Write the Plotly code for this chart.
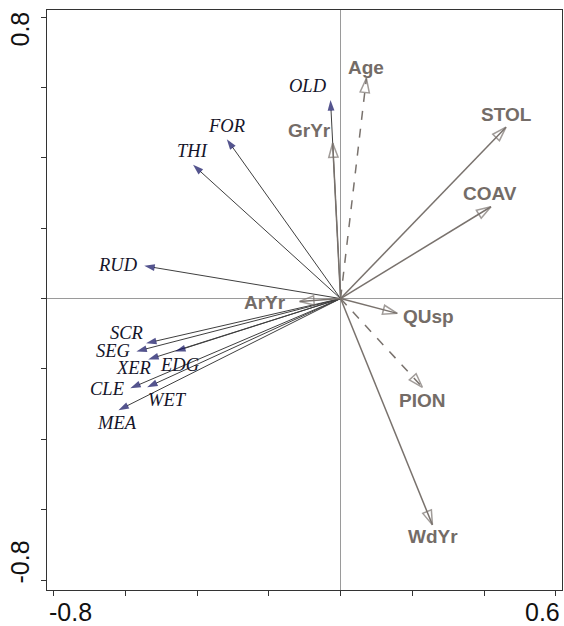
import plotly.graph_objects as go

# species arrows (tips)
species = ["OLD", "FOR", "THI", "RUD", "SCR", "SEG", "XER", "EDG", "CLE", "WET", "MEA"]
sp_x = [-0.028, -0.317, -0.411, -0.547, -0.542, -0.569, -0.536, -0.461, -0.586, -0.539, -0.619]
sp_y = [0.564, 0.453, 0.380, 0.093, -0.127, -0.150, -0.173, -0.150, -0.255, -0.252, -0.317]

# environmental variable arrows (tips)
env = ["Age", "GrYr", "STOL", "COAV", "ArYr", "QUsp", "PION", "WdYr"]
env_x = [0.072, -0.022, 0.461, 0.419, -0.114, 0.158, 0.228, 0.256]
env_y = [0.626, 0.442, 0.487, 0.261, -0.008, -0.042, -0.252, -0.643]
env_dashed = ["Age", "PION"]

# axis ticks
tick_vals_x = [-0.8, -0.6, -0.4, -0.2, 0.0, 0.2, 0.4, 0.6]
tick_vals_y = [-0.8, -0.6, -0.4, -0.2, 0.0, 0.2, 0.4, 0.6, 0.8]
x_labels = ["-0.8", "0.6"]
y_labels = ["0.8", "-0.8"]

# label pixel offsets (style only)
sp_off = {"OLD": (-23, 14), "FOR": (0, 13), "THI": (-1, 14), "RUD": (-26, 1),
          "SCR": (-20, 10), "SEG": (-23, 0), "XER": (-15, -9), "EDG": (4, -14),
          "CLE": (-23, -1), "WET": (20, -13), "MEA": (-1, -13)}
env_off = {"Age": (0, 11), "GrYr": (-23, 13), "STOL": (0, 13), "COAV": (-1, 13),
           "ArYr": (-35, -1), "QUsp": (31, -3), "PION": (0, -13), "WdYr": (1, -12)}

SP_LINE = "#3f3f3f"
SP_HEAD = "#0c0c5e"
SP_TEXT = "#15152a"
ENV_LINE = "#79726d"
ENV_TEXT = "#746c67"

fig = go.Figure()

for name, x, y in zip(species, sp_x, sp_y):
    fig.add_trace(go.Scatter(
        x=[0, x], y=[0, y], mode="lines+markers",
        line=dict(color=SP_LINE, width=1),
        marker=dict(symbol=["circle", "arrow"], size=[0, 11], color=SP_HEAD,
                    angleref="previous", line=dict(width=0)),
        hoverinfo="skip", showlegend=False))

for name, x, y in zip(env, env_x, env_y):
    fig.add_trace(go.Scatter(
        x=[0, x], y=[0, y], mode="lines+markers",
        line=dict(color=ENV_LINE, width=1.5,
                  dash="dash" if name in env_dashed else "solid"),
        marker=dict(symbol=["circle", "arrow-open"], size=[0, 15], color=ENV_LINE,
                    angleref="previous", line=dict(width=1.5, color=ENV_LINE)),
        hoverinfo="skip", showlegend=False))

annotations = []
for name, x, y in zip(species, sp_x, sp_y):
    dx, dy = sp_off[name]
    annotations.append(dict(x=x, y=y, text="<i>" + name + "</i>", showarrow=False,
                            xshift=dx, yshift=dy,
                            font=dict(family="Liberation Serif, Times New Roman, serif",
                                      size=18.5, color=SP_TEXT),
                            xanchor="center", yanchor="middle"))

for name, x, y in zip(env, env_x, env_y):
    dx, dy = env_off[name]
    annotations.append(dict(x=x, y=y, text="<b>" + name + "</b>", showarrow=False,
                            xshift=dx, yshift=dy,
                            font=dict(family="Liberation Sans, Arial, sans-serif",
                                      size=19, color=ENV_TEXT),
                            xanchor="center", yanchor="middle"))

TICK_FONT = dict(family="Liberation Sans, Arial, sans-serif", size=25, color="#111111")
annotations += [
    dict(x=0, y=0, xref="paper", yref="paper", text=x_labels[0], showarrow=False,
         xanchor="left", yanchor="top", yshift=-6, font=TICK_FONT),
    dict(x=1, y=0, xref="paper", yref="paper", text=x_labels[1], showarrow=False,
         xanchor="right", yanchor="top", yshift=-6, font=TICK_FONT),
    dict(x=0, y=1, xref="paper", yref="paper", text=y_labels[0], showarrow=False,
         xanchor="right", yanchor="top", xshift=-12, yshift=0, textangle=-90, font=TICK_FONT),
    dict(x=0, y=0, xref="paper", yref="paper", text=y_labels[1], showarrow=False,
         xanchor="right", yanchor="bottom", xshift=-12, yshift=4, textangle=-90, font=TICK_FONT),
]

fig.update_layout(
    width=564, height=626,
    margin=dict(l=47, r=2, t=10, b=36),
    paper_bgcolor="white", plot_bgcolor="white",
    annotations=annotations,
    xaxis=dict(range=[-0.818, 0.617], tickvals=tick_vals_x, showticklabels=False,
               ticks="outside", ticklen=5, tickcolor="#333333",
               showline=True, linecolor="#333333", linewidth=1, mirror=True,
               showgrid=False, zeroline=True, zerolinecolor="#9a9a9a", zerolinewidth=1),
    yaxis=dict(range=[-0.828, 0.820], tickvals=tick_vals_y, showticklabels=False,
               ticks="outside", ticklen=5, tickcolor="#333333",
               showline=True, linecolor="#333333", linewidth=1, mirror=True,
               showgrid=False, zeroline=True, zerolinecolor="#9a9a9a", zerolinewidth=1),
)

fig.write_html("out.html", config={"displayModeBar": False},
               post_script="document.body.style.margin='0px';document.body.style.overflow='hidden';")
